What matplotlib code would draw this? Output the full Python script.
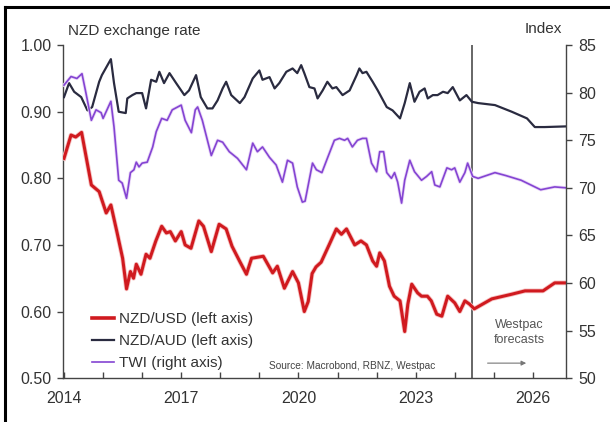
import matplotlib.pyplot as plt
import matplotlib.patheffects as pe
from matplotlib.lines import Line2D

plt.rcParams['font.family'] = ['Liberation Sans', 'DejaVu Sans']

# NZD/USD (left axis)
usd_t = [2014.0, 2014.18, 2014.3, 2014.45, 2014.7, 2014.9, 2015.08, 2015.2, 2015.36, 2015.5,
         2015.6, 2015.7, 2015.78, 2015.85, 2015.97, 2016.1, 2016.2, 2016.35, 2016.5, 2016.62,
         2016.72, 2016.85, 2017.0, 2017.1, 2017.25, 2017.45, 2017.57, 2017.77, 2017.97, 2018.15,
         2018.3, 2018.5, 2018.67, 2018.8, 2019.1, 2019.34, 2019.46, 2019.64, 2019.85, 2020.0,
         2020.15, 2020.25, 2020.35, 2020.45, 2020.58, 2020.8, 2020.97, 2021.1, 2021.23, 2021.44,
         2021.6, 2021.74, 2021.9, 2022.0, 2022.08, 2022.2, 2022.33, 2022.45, 2022.6, 2022.72,
         2022.8, 2022.9, 2023.05, 2023.15, 2023.3, 2023.4, 2023.54, 2023.67, 2023.82, 2024.0,
         2024.13, 2024.26, 2024.38, 2024.5, 2024.95, 2025.46, 2025.8, 2026.26, 2026.56, 2026.85]
usd = [0.83, 0.865, 0.862, 0.869, 0.79, 0.78, 0.748, 0.76, 0.718, 0.68,
       0.634, 0.66, 0.65, 0.671, 0.656, 0.686, 0.68, 0.706, 0.728, 0.718,
       0.72, 0.706, 0.72, 0.70, 0.695, 0.736, 0.728, 0.69, 0.731, 0.724,
       0.698, 0.675, 0.656, 0.68, 0.683, 0.658, 0.668, 0.635, 0.66, 0.643,
       0.60, 0.615, 0.657, 0.667, 0.674, 0.702, 0.724, 0.716, 0.724, 0.70,
       0.706, 0.70, 0.676, 0.668, 0.688, 0.676, 0.638, 0.623, 0.616, 0.57,
       0.611, 0.641, 0.628, 0.623, 0.623, 0.616, 0.596, 0.593, 0.623, 0.613,
       0.60, 0.616, 0.611, 0.604, 0.619, 0.626, 0.631, 0.631, 0.643, 0.643]

# NZD/AUD (left axis)
aud_t = [2014.0, 2014.13, 2014.26, 2014.44, 2014.6, 2014.72, 2014.9, 2014.97, 2015.2, 2015.28,
         2015.4, 2015.58, 2015.62, 2015.75, 2015.85, 2016.0, 2016.1, 2016.23, 2016.36, 2016.44,
         2016.56, 2016.7, 2016.87, 2017.08, 2017.2, 2017.38, 2017.5, 2017.67, 2017.8, 2017.93,
         2018.06, 2018.15, 2018.28, 2018.5, 2018.62, 2018.83, 2019.0, 2019.08, 2019.26, 2019.39,
         2019.51, 2019.69, 2019.85, 2019.97, 2020.07, 2020.15, 2020.28, 2020.41, 2020.49, 2020.62,
         2020.74, 2020.87, 2020.97, 2021.13, 2021.31, 2021.49, 2021.56, 2021.64, 2021.74, 2021.9,
         2022.03, 2022.26, 2022.41, 2022.6, 2022.72, 2022.85, 2022.97, 2023.1, 2023.23, 2023.31,
         2023.44, 2023.56, 2023.7, 2023.82, 2023.95, 2024.13, 2024.3, 2024.44, 2024.6, 2025.03,
         2025.46, 2025.85, 2026.05, 2026.3, 2026.85]
aud = [0.922, 0.943, 0.93, 0.922, 0.902, 0.907, 0.945, 0.955, 0.979, 0.943,
       0.90, 0.898, 0.92, 0.925, 0.928, 0.928, 0.905, 0.948, 0.945, 0.96,
       0.943, 0.958, 0.943, 0.925, 0.932, 0.955, 0.922, 0.905, 0.905, 0.917,
       0.935, 0.945, 0.925, 0.913, 0.922, 0.95, 0.962, 0.948, 0.952, 0.935,
       0.943, 0.96, 0.965, 0.958, 0.97, 0.958, 0.937, 0.935, 0.92, 0.932,
       0.945, 0.935, 0.937, 0.925, 0.932, 0.955, 0.965, 0.958, 0.96, 0.945,
       0.932, 0.907, 0.902, 0.89, 0.913, 0.943, 0.915, 0.93, 0.935, 0.92,
       0.925, 0.925, 0.93, 0.928, 0.937, 0.917, 0.925, 0.915, 0.913, 0.91,
       0.90, 0.89, 0.877, 0.877, 0.878]

# Trade-weighted index (right axis)
twi_t = [2014.0, 2014.18, 2014.33, 2014.46, 2014.56, 2014.7, 2014.82, 2014.95, 2015.0, 2015.2,
         2015.28, 2015.4, 2015.49, 2015.6, 2015.7, 2015.79, 2015.85, 2015.92, 2016.0, 2016.13,
         2016.27, 2016.36, 2016.5, 2016.64, 2016.77, 2017.0, 2017.1, 2017.26, 2017.36, 2017.42,
         2017.54, 2017.77, 2017.93, 2018.06, 2018.23, 2018.44, 2018.67, 2018.83, 2018.95, 2019.08,
         2019.26, 2019.43, 2019.59, 2019.72, 2019.85, 2019.97, 2020.1, 2020.17, 2020.36, 2020.46,
         2020.6, 2020.74, 2020.92, 2021.05, 2021.18, 2021.26, 2021.38, 2021.51, 2021.64, 2021.74,
         2021.87, 2022.0, 2022.08, 2022.18, 2022.26, 2022.38, 2022.46, 2022.54, 2022.64, 2022.72,
         2022.85, 2022.97, 2023.15, 2023.28, 2023.41, 2023.49, 2023.62, 2023.8, 2023.92, 2024.0,
         2024.13, 2024.26, 2024.33, 2024.46, 2024.6, 2025.03, 2025.3, 2025.7, 2026.2, 2026.56,
         2026.85]
twi = [80.8, 81.7, 81.5, 82.0, 80.0, 77.1, 78.2, 77.9, 77.3, 79.1,
       76.4, 70.8, 70.5, 68.9, 71.6, 71.9, 72.7, 72.2, 72.6, 72.7,
       74.3, 75.9, 77.3, 77.1, 78.2, 78.7, 77.1, 75.8, 78.2, 78.5,
       77.1, 73.4, 75.0, 74.8, 73.8, 73.1, 71.9, 74.7, 73.8, 74.3,
       73.2, 72.4, 70.6, 72.9, 72.6, 70.1, 68.5, 68.6, 72.6, 71.9,
       71.6, 73.1, 75.0, 75.2, 75.0, 75.2, 74.3, 75.0, 75.2, 75.2,
       72.6, 71.7, 73.8, 73.8, 71.6, 71.0, 71.6, 70.6, 68.4, 70.8,
       72.9, 71.7, 70.8, 71.2, 71.7, 70.3, 70.1, 72.1, 71.9, 72.1,
       70.6, 71.6, 72.6, 71.2, 71.0, 71.6, 71.3, 70.8, 69.8, 70.1,
       70.0]

forecast_start = 2024.45
major_years = [2014, 2017, 2020, 2023, 2026]
left_ticks = [0.50, 0.60, 0.70, 0.80, 0.90, 1.00]
right_ticks = [50, 55, 60, 65, 70, 75, 80, 85]

red = '#d01a1f'
navy = '#2a2b40'
violet = '#8444d2'
txt = '#333333'

fig = plt.figure(figsize=(6.1, 4.22), dpi=100)
ax = fig.add_axes([0.103, 0.104, 0.825, 0.789])
ax2 = ax.twinx()

ax2.plot(twi_t, twi, color=violet, lw=1.2,
         path_effects=[pe.Stroke(linewidth=2.4, foreground='#ead9f8'), pe.Normal()])
ax.plot(aud_t, aud, color=navy, lw=1.6, zorder=3)
ax.plot(usd_t, usd, color=red, lw=2.2, zorder=4,
        path_effects=[pe.Stroke(linewidth=3.4, foreground='#f6c2c2'), pe.Normal()])

ax.axvline(forecast_start, color='#666666', lw=1.4, zorder=2)

ax.set_xlim(2013.97, 2026.85)
ax.set_ylim(0.5, 1.0)
ax2.set_ylim(50, 85)

ax.set_xticks(major_years)
ax.set_xticks(range(2014, 2027), minor=True)
ax.set_yticks(left_ticks)
ax.set_yticklabels([f'{v:.2f}' for v in left_ticks])
ax2.set_yticks(right_ticks)

ax.tick_params(axis='x', which='both', direction='in', length=4, width=1,
               color='#444444', labelsize=11.5, labelcolor=txt, pad=9)
ax.tick_params(axis='y', direction='out', length=4, width=1, color='#444444',
               labelsize=11.5, labelcolor=txt, pad=4)
ax2.tick_params(axis='y', direction='out', length=4, width=1, color='#444444',
                labelsize=11.5, labelcolor=txt, pad=5)

for a in (ax, ax2):
    a.spines['top'].set_visible(False)
    for s in a.spines.values():
        s.set_color('#444444')
        s.set_linewidth(1.0)
ax.spines['right'].set_visible(False)
ax2.spines['left'].set_visible(False)
ax2.spines['bottom'].set_visible(False)

fig.text(0.112, 0.917, 'NZD exchange rate', fontsize=11, color=txt, va='baseline')
fig.text(0.921, 0.921, 'Index', fontsize=11, color=txt, ha='right', va='baseline')

ax2.text(0.41, 0.036, 'Source: Macrobond, RBNZ, Westpac', transform=ax.transAxes,
         fontsize=7.3, color='#444444', va='center')
ax2.text(2025.65, 0.136, 'Westpac\nforecasts', transform=ax.get_xaxis_transform(),
         fontsize=9, color='#555555', ha='center', va='center', linespacing=1.35)
ax2.annotate('', xy=(2025.9, 0.045), xytext=(2024.77, 0.045),
             xycoords=ax.get_xaxis_transform(),
             arrowprops=dict(arrowstyle='-|>', color='#777777', lw=0.8,
                             mutation_scale=7))

handles = [Line2D([], [], color=red, lw=2.6),
           Line2D([], [], color=navy, lw=1.6),
           Line2D([], [], color=violet, lw=1.2)]
labels = ['NZD/USD (left axis)', 'NZD/AUD (left axis)', 'TWI (right axis)']
ax2.legend(handles, labels, loc='lower left', bbox_to_anchor=(0.058, 0.024),
           frameon=False, fontsize=11, handlelength=1.45, handletextpad=0.3,
           labelspacing=0.52, borderpad=0, borderaxespad=0, labelcolor=txt)

# frame lines along the left and top edges
fig.add_artist(Line2D([0.009, 0.009], [0.0, 0.984], color='black', lw=2.2,
                      transform=fig.transFigure))
fig.add_artist(Line2D([0.009, 1.0], [0.984, 0.984], color='black', lw=2.2,
                      transform=fig.transFigure))

fig.savefig('out.png', dpi=100)
